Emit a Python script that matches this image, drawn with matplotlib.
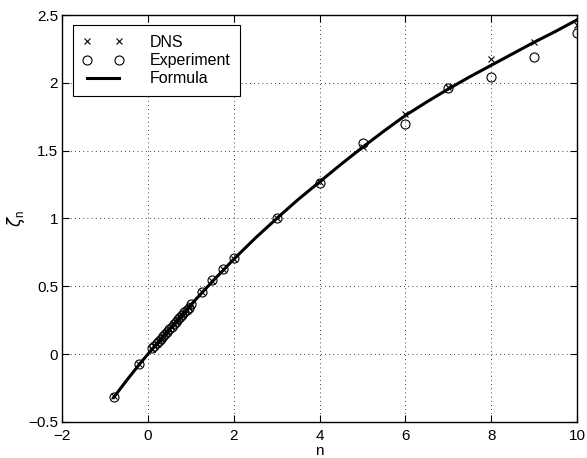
import matplotlib
matplotlib.use('Agg')
import matplotlib.pyplot as plt

plt.rcParams['font.family'] = ['Liberation Sans', 'DejaVu Sans']
plt.rcParams['mathtext.fontset'] = 'custom'
plt.rcParams['mathtext.rm'] = 'Liberation Sans'

# DNS points
n_dns = [-0.8, -0.2, 0.1, 0.15, 0.2, 0.25, 0.3, 0.35, 0.4, 0.45, 0.5, 0.55, 0.6, 0.65,
         0.7, 0.75, 0.8, 0.85, 0.9, 0.95, 1.0, 1.25, 1.5, 1.75, 2, 3, 4, 5, 6, 7, 8, 9, 10]
zeta_dns = [-0.31, -0.072, 0.04, 0.057, 0.075, 0.093, 0.111, 0.129, 0.147, 0.165, 0.183,
            0.2, 0.218, 0.236, 0.253, 0.27, 0.288, 0.305, 0.322, 0.34, 0.364, 0.455, 0.54,
            0.625, 0.70, 1.0, 1.27, 1.525, 1.77, 1.97, 2.175, 2.30, 2.43]

# experiment points
n_exp = [-0.8, -0.2, 0.1, 0.15, 0.2, 0.25, 0.3, 0.35, 0.4, 0.45, 0.5, 0.55, 0.6, 0.65,
         0.7, 0.75, 0.8, 0.85, 0.9, 0.95, 1.0, 1.25, 1.5, 1.75, 2, 3, 4, 5, 6, 7, 8, 9, 10]
zeta_exp = [-0.315, -0.075, 0.042, 0.06, 0.078, 0.095, 0.113, 0.131, 0.149, 0.166, 0.184,
            0.202, 0.22, 0.238, 0.256, 0.273, 0.29, 0.307, 0.325, 0.343, 0.37, 0.458, 0.543,
            0.63, 0.707, 1.0, 1.26, 1.555, 1.70, 1.96, 2.04, 2.19, 2.365]

# formula curve
n_form = [-0.8, -0.5, -0.2, 0, 0.5, 1, 1.5, 2, 2.5, 3, 3.5, 4, 4.5, 5, 5.5, 6, 6.5, 7,
          7.5, 8, 8.5, 9, 9.5, 10]
zeta_form = [-0.32, -0.195, -0.075, 0, 0.185, 0.364, 0.535, 0.70, 0.855, 1.0, 1.14, 1.27,
             1.40, 1.525, 1.645, 1.76, 1.86, 1.955, 2.045, 2.13, 2.215, 2.30, 2.38, 2.465]

fig = plt.figure(figsize=(5.87, 4.58), dpi=100)
ax = fig.add_axes([0.106, 0.079, 0.877, 0.888])

ax.plot(n_dns, zeta_dns, 'x', color='black', ms=5, mew=0.8, label='DNS')
ax.plot(n_exp, zeta_exp, 'o', color='black', mfc='none', ms=6.5, mew=0.8, label='Experiment')
ax.plot(n_form, zeta_form, '-', color='black', lw=2.2, label='Formula')

ax.set_xlim(-2, 10)
ax.set_ylim(-0.5, 2.5)
ax.set_xticks([-2, 0, 2, 4, 6, 8, 10])
ax.set_yticks([-0.5, 0, 0.5, 1, 1.5, 2, 2.5])
ax.set_xticklabels(['\u22122', '0', '2', '4', '6', '8', '10'])
ax.set_yticklabels(['\u22120.5', '0', '0.5', '1', '1.5', '2', '2.5'])
ax.grid(True, linestyle=(0, (1, 4)), color='black', lw=0.6)
ax.tick_params(direction='in', top=True, right=True, length=5, width=0.8, labelsize=11)
ax.tick_params(axis='x', pad=5)
ax.tick_params(axis='y', pad=3)
for s in ax.spines.values():
    s.set_linewidth(1.0)

ax.set_xlabel('n', fontsize=11, labelpad=1)
ax.set_ylabel(r'$\zeta_\mathrm{n}$', fontsize=12, labelpad=1)

leg = ax.legend(loc='upper left', numpoints=2, fontsize=11.5, frameon=True, fancybox=False,
                edgecolor='black', framealpha=1, borderaxespad=0.65, handlelength=2.6,
                handletextpad=1.6, labelspacing=0.2, borderpad=0.6)
leg.get_frame().set_linewidth(0.8)

fig.savefig('out.png', dpi=100)
